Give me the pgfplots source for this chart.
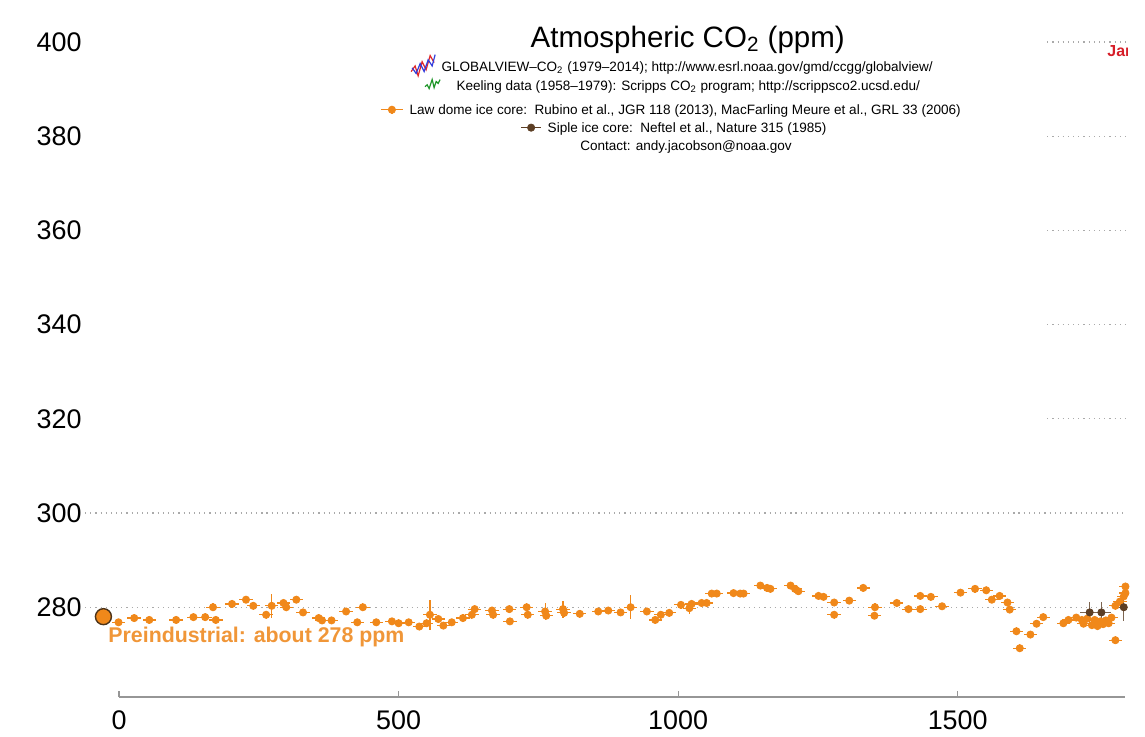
\documentclass[border=0pt]{standalone}
\usepackage{pgfplots}
\usepackage{pgfplotstable}
\pgfplotsset{compat=1.18}
\usepackage{fontspec}
\setmainfont{Liberation Sans}

\definecolor{lawdome}{RGB}{240,136,26}
\definecolor{lawlabel}{RGB}{240,150,56}
\definecolor{siple}{RGB}{92,62,36}
\definecolor{gridc}{RGB}{170,170,170}
\definecolor{axisc}{RGB}{150,150,150}
\definecolor{janred}{RGB}{214,30,40}
\definecolor{gvred}{RGB}{225,40,40}
\definecolor{gvblue}{RGB}{50,60,220}
\definecolor{keel}{RGB}{30,150,40}

% Law Dome ice core (year, ppm, year err, ppm err)
\pgfplotstableread{
x y ex ey
-1 276.8 12 0.8
27 277.7 12 0.8
54 277.3 12 0.8
102 277.3 12 0.8
133 277.9 12 0.8
154 277.9 12 0.8
168 280.0 12 0.8
173 277.3 12 0.8
202 280.7 12 0.8
227 281.6 12 0.8
240 280.3 12 0.8
263 278.4 12 0.8
273 280.3 12 2.6
294 280.9 12 0.8
299 280.0 12 0.8
317 281.6 12 0.8
329 278.9 12 0.8
357 277.7 12 0.8
363 277.2 12 0.8
380 277.2 12 0.8
406 279.1 12 0.8
426 276.8 12 0.8
436 280.0 12 0.8
460 276.8 12 0.8
488 277.0 12 0.8
500 276.6 12 0.8
518 276.8 12 0.8
537 275.9 12 0.8
550 276.6 12 0.8
556 278.4 12 3.2
571 277.5 12 0.8
580 276.1 12 0.8
595 276.8 12 0.8
615 277.7 12 0.8
631 278.4 12 0.8
636 279.6 12 0.8
667 279.3 12 0.8
669 278.4 12 0.8
698 279.6 12 0.8
699 277.0 12 0.8
729 280.0 12 0.8
731 278.4 12 0.8
762 279.1 12 1.8
764 278.2 12 0.8
794 279.6 12 1.8
796 278.8 12 0.8
824 278.6 12 0.8
857 279.1 12 0.8
875 279.3 12 0.8
897 278.9 12 0.8
915 280.0 12 2.5
944 279.1 12 0.8
959 277.3 12 0.8
969 278.4 12 0.8
984 278.8 12 0.8
1005 280.5 12 0.8
1020 279.8 12 1.2
1024 280.7 12 0.8
1042 280.9 12 0.8
1051 280.9 12 0.8
1060 282.9 12 0.8
1069 282.9 12 0.8
1099 283.0 12 0.8
1111 282.9 12 0.8
1117 282.9 12 0.8
1147 284.6 12 0.8
1159 284.1 12 0.8
1165 283.9 12 0.8
1201 284.6 12 0.8
1209 283.9 12 0.8
1215 283.4 12 0.8
1251 282.4 12 0.8
1260 282.2 12 0.8
1279 281.0 12 0.8
1279 278.4 12 0.8
1306 281.4 12 0.8
1331 284.1 12 0.8
1352 280.0 12 0.8
1351 278.2 12 0.8
1391 280.9 12 0.8
1412 279.6 12 0.8
1433 279.6 12 0.8
1433 282.4 12 0.8
1452 282.2 12 0.8
1472 280.2 12 0.8
1505 283.1 12 0.8
1531 283.9 12 0.8
1551 283.6 12 0.8
1561 281.6 12 0.8
1575 282.4 12 0.8
1589 281.0 12 0.8
1593 279.5 12 0.8
1605 274.9 12 0.8
1611 271.3 12 0.8
1630 274.2 12 0.8
1641 276.5 12 0.8
1653 277.9 12 0.8
1689 276.6 12 0.8
1698 277.3 12 0.8
1712 277.8 12 0.8
1722 277.3 12 0.8
1725 276.5 12 0.8
1732 277.6 12 0.8
1740 276.2 12 0.8
1745 277.3 12 0.8
1750 276.0 12 0.8
1755 277.0 12 0.8
1760 276.4 12 0.8
1765 277.2 12 0.8
1770 276.6 12 0.8
1775 277.8 12 0.8
1782 273.0 12 0.8
1782 280.3 12 0.8
1790 281.2 12 0.8
1797 282.3 12 0.8
1800 284.4 12 0.8
1800 283.0 12 0.8
}\lawdome

% Siple ice core
\pgfplotstableread{
x y ex ey
1736 278.9 18 2.3
1757 278.9 18 2.3
1797 280.0 18 3.0
}\siple

\begin{document}
\begin{tikzpicture}
\begin{axis}[
    x=0.2795bp, y=2.355bp,
    xmin=-213, xmax=1803.2, ymin=252.6, ymax=408.9,
    axis line style={draw=none},
    tick style={draw=none},
    xtick={0,500,1000,1500},
    ytick={280,300,...,400},
    xtick pos=bottom, ytick pos=left,
    ticklabel style={font=\fontsize{13.5}{15}\selectfont},
    /pgf/number format/assume math mode=true,
    /pgf/number format/set thousands separator={},
    yticklabel style={anchor=east, inner sep=0pt, xshift=41bp},
    xticklabel style={anchor=base, inner sep=0pt, yshift=3.2bp},
    unbounded coords=jump,
    clip=true,
  ]

  % dotted grid lines
  \addplot[gridc, dotted, line width=0.6bp] coordinates {
    (-61,280) (1803,280) (nan,nan)
    (-61,300) (1803,300) (nan,nan)
    (1660,320) (1803,320) (nan,nan)
    (1660,340) (1803,340) (nan,nan)
    (1660,360) (1803,360) (nan,nan)
    (1660,380) (1803,380) (nan,nan)
    (1660,400) (1803,400)
  };

  % x axis line and ticks
  \addplot[axisc, line width=1bp] coordinates {(0,261) (1800,261)};
  \addplot[axisc, line width=0.6bp] coordinates {
    (0,261) (0,262.3) (nan,nan)
    (500,261) (500,262.3) (nan,nan)
    (1000,261) (1000,262.3) (nan,nan)
    (1500,261) (1500,262.3)
  };

  % Law Dome
  \addplot[only marks, mark=*, mark size=1.8bp, color=lawdome,
    error bars/.cd, x dir=both, y dir=both, x explicit, y explicit,
    error mark=none, error bar style={line width=0.6bp, lawdome}]
    table[x=x, y=y, x error=ex, y error=ey] {\lawdome};

  % Siple
  \addplot[only marks, mark=*, mark size=1.8bp, color=siple,
    error bars/.cd, x dir=both, y dir=both, x explicit, y explicit,
    error mark=none, error bar style={line width=0.6bp, siple!80}]
    table[x=x, y=y, x error=ex, y error=ey] {\siple};

  % preindustrial marker
  \addplot[only marks, mark=*, mark size=4bp,
    mark options={fill=lawdome, draw=black!60!brown, line width=0.7bp}]
    coordinates {(-28,278.0)};
  \node[anchor=base west, inner sep=0pt, text=lawlabel,
    font=\fontsize{10.7}{12}\selectfont\bfseries]
    at (axis cs:-19.7,272.5) {Preindustrial: about 278 ppm};

  % title and legend
  \node[anchor=base, inner sep=0pt, font=\fontsize{14.8}{16}\selectfont]
    at (axis cs:1017,398.9) {Atmospheric CO\textsubscript{2} (ppm)};

  \addplot[gvred, line width=0.6bp] coordinates {
    (522.4,393.7) (529.5,394.9) (534.9,392.8) (542.0,395.8)
    (549.2,394.1) (556.4,397.1) (563.5,395.6)};
  \addplot[gvblue, line width=0.6bp] coordinates {
    (524.2,394.5) (531.3,393.3) (538.5,395.4) (545.6,393.7)
    (552.8,396.2) (560.0,394.9) (565.3,397.3)};
  \node[anchor=base west, inner sep=0pt, font=\fontsize{6.8}{8}\selectfont]
    at (axis cs:576,393.7)
    {GLOBALVIEW--CO\textsubscript{2} (1979--2014); http://www.esrl.noaa.gov/gmd/ccgg/globalview/};

  \addplot[keel, line width=0.6bp] coordinates {
    (547.4,390.5) (551.0,390.9) (554.6,390.1) (560.0,392.0)
    (563.5,390.3) (567.1,391.6) (570.7,391.2) (574.2,392.0)};
  \node[anchor=base west, inner sep=0pt, font=\fontsize{6.8}{8}\selectfont]
    at (axis cs:603,389.7)
    {Keeling data (1958--1979): Scripps CO\textsubscript{2} program; http://scrippsco2.ucsd.edu/};

  \addplot[only marks, mark=*, mark size=1.8bp, color=lawdome,
    error bars/.cd, x dir=both, y dir=both, x fixed=20, y fixed=0.8,
    error mark=none, error bar style={line width=0.6bp}]
    coordinates {(488,385.6)};
  \node[anchor=base west, inner sep=0pt, font=\fontsize{6.8}{8}\selectfont]
    at (axis cs:519,384.6)
    {Law dome ice core:\ \ Rubino et al., JGR 118 (2013), MacFarling Meure et al., GRL 33 (2006)};

  \addplot[only marks, mark=*, mark size=1.8bp, color=siple,
    error bars/.cd, x dir=both, y dir=both, x fixed=18, y fixed=0.8,
    error mark=none, error bar style={line width=0.6bp}]
    coordinates {(737,381.8)};
  \node[anchor=base west, inner sep=0pt, font=\fontsize{6.8}{8}\selectfont]
    at (axis cs:766,380.7)
    {Siple ice core:\ \ Neftel et al., Nature 315 (1985)};

  \node[anchor=base, inner sep=0pt, font=\fontsize{6.8}{8}\selectfont]
    at (axis cs:1014,376.9) {Contact: andy.jacobson@noaa.gov};

  \node[anchor=base west, inner sep=0pt, text=janred,
    font=\fontsize{8}{9}\selectfont\bfseries]
    at (axis cs:1767,396.8) {Jan};

  \coordinate (bbtr) at (axis cs:1835,408.9);
\end{axis}
\path (bbtr);
\end{tikzpicture}
\end{document}
